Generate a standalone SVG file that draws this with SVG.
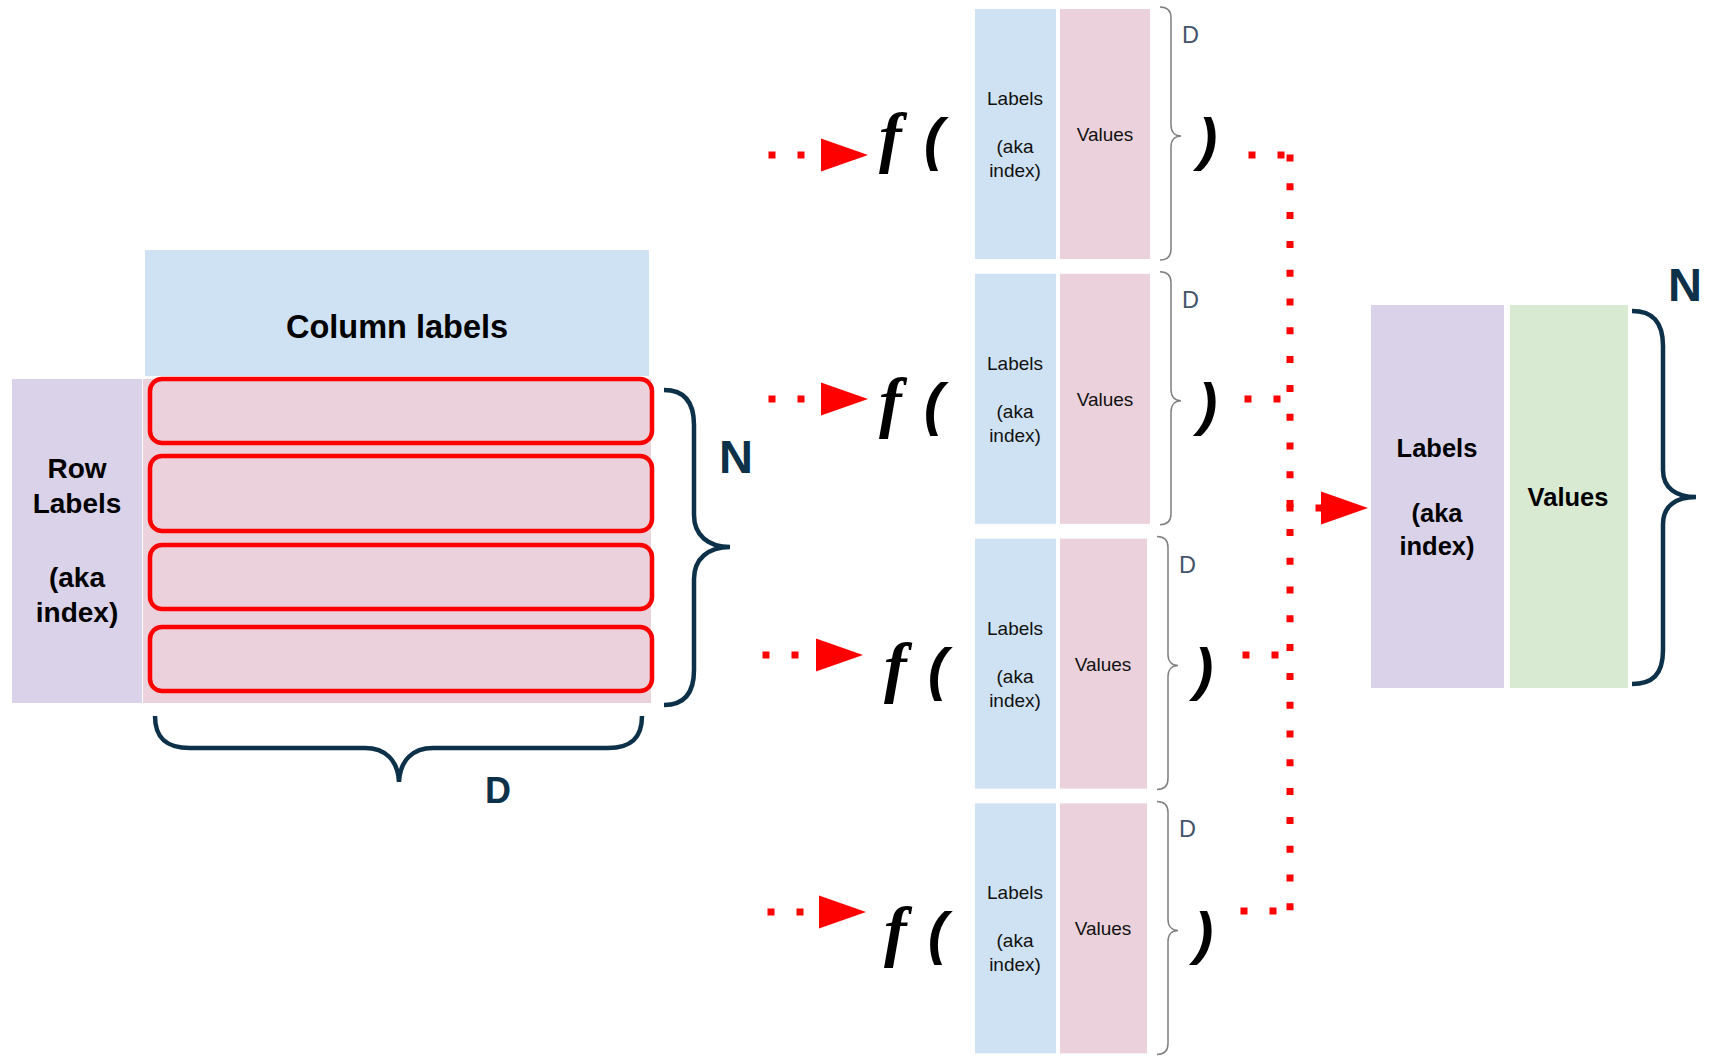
<svg xmlns="http://www.w3.org/2000/svg" xmlns:xlink="http://www.w3.org/1999/xlink" width="1712" height="1063" viewBox="0 0 1712 1063">
<style>
.sans{font-family:"Liberation Sans",Arial,sans-serif}
.bold{font-weight:bold}
.ctr{text-anchor:middle}
.blue{fill:#cfe2f3}
.lav{fill:#d9d2e9}
.pink{fill:#ead1dc}
.green{fill:#d9ead3}
.row{fill:none;stroke:#ff0000;stroke-width:4.5}
.navybrace{fill:none;stroke:#0c3149;stroke-width:4.5}
.graybrace{fill:none;stroke:#7f7f7f;stroke-width:1.5}
.navy{fill:#0c3149}
.small{font-size:19px;fill:#111}
.dlab{font-size:23.5px;fill:#44546a}
.fn{font-family:"Liberation Serif","Times New Roman",serif;font-weight:bold;font-style:italic;font-size:68px;fill:#000}
.par{font-family:"Liberation Sans",Arial,sans-serif;font-weight:bold;font-style:italic;font-size:58px;fill:#000}
.dot{fill:none;stroke:#ff0000;stroke-width:7;stroke-dasharray:7 22}
.vdot{fill:none;stroke:#ff0000;stroke-width:7;stroke-dasharray:7 21.8}
.tri{fill:#ff0000}
</style>
<defs>
<path id="tri" d="M0,-16.5 L47,0 L0,16.5 Z"/>
<path id="ubrace" d="M0,0 C7,0 11,3 11,11 L11,118 C11,125 15,129 21,129 C15,129 11,133 11,140 L11,242 C11,249 7,253 0,253"/>
</defs>
<rect width="1712" height="1063" fill="#ffffff"/>

<g id="table">
<rect class="blue" x="145" y="250" width="504" height="126"/>
<text class="sans bold ctr" x="397" y="338" font-size="32.5">Column labels</text>
<rect class="lav" x="12" y="379" width="130" height="324"/>
<rect class="pink" x="143" y="379" width="508" height="324"/>
<text class="sans bold ctr" font-size="28" x="77" y="478">Row</text>
<text class="sans bold ctr" font-size="28" x="77" y="513">Labels</text>
<text class="sans bold ctr" font-size="28" x="77" y="587">(aka</text>
<text class="sans bold ctr" font-size="28" x="77" y="622">index)</text>
<rect class="row" x="150" y="379" width="502" height="64" rx="12"/>
<rect class="row" x="150" y="456" width="502" height="75" rx="12"/>
<rect class="row" x="150" y="545" width="502" height="64" rx="12"/>
<rect class="row" x="150" y="627" width="502" height="64" rx="12"/>
<path class="navybrace" d="M664,390 C684,390 694,402 694,425 L694,515 C694,535 708,547 730,547 C708,547 694,559 694,579 L694,670 C694,693 684,705 664,705"/>
<text class="sans bold navy" x="719" y="473" font-size="47">N</text>
<path class="navybrace" d="M155,716 C155,737 165,748 190,748 L365,748 C385,748 398,760 399,782 C400,760 413,748 433,748 L608,748 C632,748 642,737 642,716"/>
<text class="sans bold navy" x="485" y="803" font-size="36">D</text>
</g>

<g id="unit1">
<text class="fn" x="879" y="160">f</text>
<text class="par" x="924" y="159">(</text>
<rect class="blue" x="975" y="9" width="81" height="250"/>
<rect class="pink" x="1060" y="9" width="90" height="250"/>
<text class="sans small ctr" x="1015" y="105">Labels</text>
<text class="sans small ctr" x="1015" y="153">(aka</text>
<text class="sans small ctr" x="1015" y="177">index)</text>
<text class="sans small ctr" x="1105" y="141">Values</text>
<use xlink:href="#ubrace" class="graybrace" x="1160" y="7"/>
<text class="sans dlab" x="1182" y="43">D</text>
<text class="par" x="1198" y="159">)</text>
</g>

<g id="unit2" transform="translate(0,264.8)">
<text class="fn" x="879" y="160">f</text>
<text class="par" x="924" y="159">(</text>
<rect class="blue" x="975" y="9" width="81" height="250"/>
<rect class="pink" x="1060" y="9" width="90" height="250"/>
<text class="sans small ctr" x="1015" y="105">Labels</text>
<text class="sans small ctr" x="1015" y="153">(aka</text>
<text class="sans small ctr" x="1015" y="177">index)</text>
<text class="sans small ctr" x="1105" y="141">Values</text>
<use xlink:href="#ubrace" class="graybrace" x="1160" y="7"/>
<text class="sans dlab" x="1182" y="43">D</text>
<text class="par" x="1198" y="159">)</text>
</g>

<g id="unit3" transform="translate(0,529.6)">
<text class="fn" x="884" y="160">f</text>
<text class="par" x="928" y="159">(</text>
<rect class="blue" x="975" y="9" width="81" height="250"/>
<rect class="pink" x="1060" y="9" width="87" height="250"/>
<text class="sans small ctr" x="1015" y="105">Labels</text>
<text class="sans small ctr" x="1015" y="153">(aka</text>
<text class="sans small ctr" x="1015" y="177">index)</text>
<text class="sans small ctr" x="1103" y="141">Values</text>
<use xlink:href="#ubrace" class="graybrace" x="1157" y="7"/>
<text class="sans dlab" x="1179" y="43">D</text>
<text class="par" x="1194" y="159">)</text>
</g>

<g id="unit4" transform="translate(0,794.4)">
<text class="fn" x="884" y="160">f</text>
<text class="par" x="928" y="159">(</text>
<rect class="blue" x="975" y="9" width="81" height="250"/>
<rect class="pink" x="1060" y="9" width="87" height="250"/>
<text class="sans small ctr" x="1015" y="105">Labels</text>
<text class="sans small ctr" x="1015" y="153">(aka</text>
<text class="sans small ctr" x="1015" y="177">index)</text>
<text class="sans small ctr" x="1103" y="141">Values</text>
<use xlink:href="#ubrace" class="graybrace" x="1157" y="7"/>
<text class="sans dlab" x="1179" y="43">D</text>
<text class="par" x="1194" y="159">)</text>
</g>

<g id="result">
<rect class="lav" x="1371" y="305" width="133" height="383"/>
<rect class="green" x="1510" y="305" width="118" height="383"/>
<text class="sans bold ctr" font-size="25.5" x="1437" y="457">Labels</text>
<text class="sans bold ctr" font-size="25.5" x="1437" y="522">(aka</text>
<text class="sans bold ctr" font-size="25.5" x="1437" y="555">index)</text>
<text class="sans bold ctr" font-size="25.5" x="1568" y="506">Values</text>
<path class="navybrace" d="M1632,311 C1652,311 1663,321 1663,346 L1663,470 C1663,488 1676,497 1696,497 C1676,497 1663,506 1663,524 L1663,650 C1663,675 1652,684 1632,684"/>
<text class="sans bold navy" x="1668" y="301" font-size="47">N</text>
</g>

<g id="connectors">
<path class="dot" d="M768.5,155 H805.5"/>
<use xlink:href="#tri" class="tri" x="821" y="155"/>
<path class="dot" d="M768.5,399 H805.5"/>
<use xlink:href="#tri" class="tri" x="821" y="399"/>
<path class="dot" d="M762.5,655 H801.5"/>
<use xlink:href="#tri" class="tri" x="816" y="655"/>
<path class="dot" d="M767.5,912 H803.5"/>
<use xlink:href="#tri" class="tri" x="819" y="912"/>
<path class="dot" d="M1248.5,155 H1284.5"/>
<path class="dot" d="M1244.5,399 H1280.5"/>
<path class="dot" d="M1242.5,655 H1280.5"/>
<path class="dot" d="M1240.5,911 H1276.5"/>
<path class="vdot" d="M1290,154.5 V911"/>
<path class="dot" d="M1286.5,508 H1322.5"/>
<use xlink:href="#tri" class="tri" x="1321" y="508"/>
</g>
</svg>
